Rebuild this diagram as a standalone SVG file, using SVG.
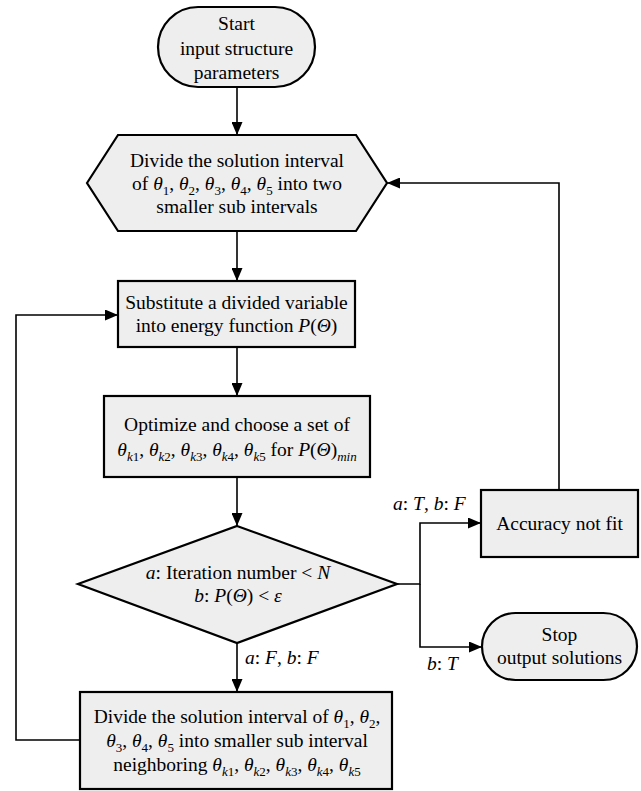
<svg xmlns="http://www.w3.org/2000/svg" width="641" height="791" viewBox="0 0 641 791">
<style>
.n{fill:#eeeeee;stroke:#000;stroke-width:2.2}
.c{fill:none;stroke:#000;stroke-width:1.6}
text{font-family:"Liberation Serif","Times New Roman",serif;font-size:19.5px;fill:#000}
.t{text-anchor:middle}
.i{font-style:italic}
.sb{font-size:13px;baseline-shift:-4.5px}
</style>
<defs>
<marker id="ah" markerUnits="userSpaceOnUse" markerWidth="13" markerHeight="11" refX="13" refY="5.5" orient="auto">
<path d="M0,0 L13,5.5 L0,11 z" fill="#000"/>
</marker>
</defs>
<rect width="641" height="791" fill="#fff"/>
<g id="connectors">
<line class="c" x1="237" y1="87" x2="237" y2="135" marker-end="url(#ah)"/>
<line class="c" x1="237" y1="231" x2="237" y2="281" marker-end="url(#ah)"/>
<line class="c" x1="237" y1="347" x2="237" y2="396" marker-end="url(#ah)"/>
<line class="c" x1="237" y1="477" x2="237" y2="526" marker-end="url(#ah)"/>
<line class="c" x1="237" y1="643" x2="237" y2="692" marker-end="url(#ah)"/>
<polyline class="c" points="80,740 16,740 16,315 118,315" marker-end="url(#ah)"/>
<polyline class="c" points="397,584 420,584 420,523 481,523" marker-end="url(#ah)"/>
<polyline class="c" points="420,584 420,647 482,647" marker-end="url(#ah)"/>
<polyline class="c" points="559,490 559,183 387,183" marker-end="url(#ah)"/>
<text x="393" y="510"><tspan class="i">a</tspan>: <tspan class="i">T</tspan>, <tspan class="i">b</tspan>: <tspan class="i">F</tspan></text>
<text x="245" y="664"><tspan class="i">a</tspan>: <tspan class="i">F</tspan>, <tspan class="i">b</tspan>: <tspan class="i">F</tspan></text>
<text x="427" y="670"><tspan class="i">b</tspan>: <tspan class="i">T</tspan></text>
</g>
<g id="start">
<rect class="n" x="158" y="7" width="157" height="80" rx="40" ry="40"/>
<text class="t" x="236.5" y="30">Start</text>
<text class="t" x="236.5" y="54.5">input structure</text>
<text class="t" x="236.5" y="79">parameters</text>
</g>
<g id="divide1">
<polygon class="n" points="87,183 118,135 356,135 387,183 356,231 118,231"/>
<text class="t" x="237" y="167">Divide the solution interval</text>
<text class="t" x="237" y="190">of <tspan class="i">θ</tspan><tspan class="sb">1</tspan>, <tspan class="i">θ</tspan><tspan class="sb">2</tspan>, <tspan class="i">θ</tspan><tspan class="sb">3</tspan>, <tspan class="i">θ</tspan><tspan class="sb">4</tspan>, <tspan class="i">θ</tspan><tspan class="sb">5</tspan> into two</text>
<text class="t" x="237" y="213">smaller sub intervals</text>
</g>
<g id="substitute">
<rect class="n" x="118" y="281" width="237" height="66"/>
<text class="t" x="236.5" y="309">Substitute a divided variable</text>
<text class="t" x="236.5" y="332">into energy function <tspan class="i">P</tspan>(<tspan class="i">Θ</tspan>)</text>
</g>
<g id="optimize">
<rect class="n" x="104" y="396" width="266" height="81"/>
<text class="t" x="237" y="431">Optimize and choose a set of</text>
<text class="t" x="237" y="456"><tspan class="i">θ</tspan><tspan class="sb"><tspan class="i">k</tspan>1</tspan>, <tspan class="i">θ</tspan><tspan class="sb"><tspan class="i">k</tspan>2</tspan>, <tspan class="i">θ</tspan><tspan class="sb"><tspan class="i">k</tspan>3</tspan>, <tspan class="i">θ</tspan><tspan class="sb"><tspan class="i">k</tspan>4</tspan>, <tspan class="i">θ</tspan><tspan class="sb"><tspan class="i">k</tspan>5</tspan> for <tspan class="i">P</tspan>(<tspan class="i">Θ</tspan>)<tspan class="sb i">min</tspan></text>
</g>
<g id="decision">
<polygon class="n" points="237,526 397,584 237,643 78,584"/>
<text class="t" x="238" y="579"><tspan class="i">a</tspan>: Iteration number &lt; <tspan class="i">N</tspan></text>
<text class="t" x="238" y="602"><tspan class="i">b</tspan>: <tspan class="i">P</tspan>(<tspan class="i">Θ</tspan>) &lt; <tspan class="i">ε</tspan></text>
</g>
<g id="accuracy">
<rect class="n" x="481" y="490" width="157" height="67"/>
<text class="t" x="559.5" y="530">Accuracy not fit</text>
</g>
<g id="stop">
<rect class="n" x="482" y="613" width="155" height="67" rx="33.5" ry="33.5"/>
<text class="t" x="559.5" y="641">Stop</text>
<text class="t" x="559.5" y="664">output solutions</text>
</g>
<g id="divide2">
<rect class="n" x="80" y="692" width="312" height="97"/>
<text class="t" x="237" y="723">Divide the solution interval of <tspan class="i">θ</tspan><tspan class="sb">1</tspan>, <tspan class="i">θ</tspan><tspan class="sb">2</tspan>,</text>
<text class="t" x="237" y="747"><tspan class="i">θ</tspan><tspan class="sb">3</tspan>, <tspan class="i">θ</tspan><tspan class="sb">4</tspan>, <tspan class="i">θ</tspan><tspan class="sb">5</tspan> into smaller sub interval</text>
<text class="t" x="237" y="771">neighboring <tspan class="i">θ</tspan><tspan class="sb"><tspan class="i">k</tspan>1</tspan>, <tspan class="i">θ</tspan><tspan class="sb"><tspan class="i">k</tspan>2</tspan>, <tspan class="i">θ</tspan><tspan class="sb"><tspan class="i">k</tspan>3</tspan>, <tspan class="i">θ</tspan><tspan class="sb"><tspan class="i">k</tspan>4</tspan>, <tspan class="i">θ</tspan><tspan class="sb"><tspan class="i">k</tspan>5</tspan></text>
</g>
</svg>
